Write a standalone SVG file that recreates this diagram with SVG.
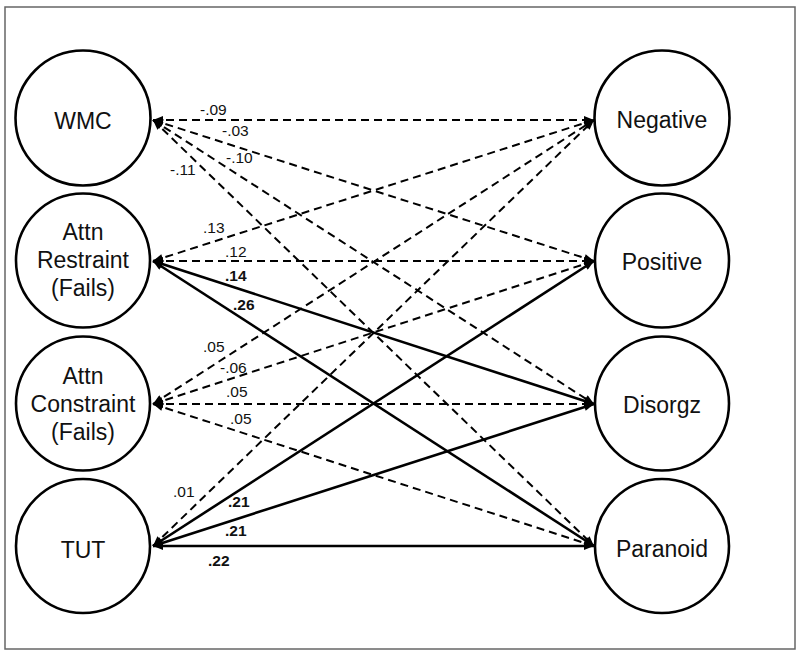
<svg xmlns="http://www.w3.org/2000/svg" width="800" height="660" viewBox="0 0 800 660">
<style>
.node{fill:#fff;stroke:#000;stroke-width:2.6}
.nl{font-family:"Liberation Sans",Arial,sans-serif;font-size:23px;fill:#111;text-anchor:middle}
.e{stroke:#000;fill:none;marker-start:url(#ah);marker-end:url(#ah)}
.d{stroke-width:2;stroke-dasharray:8 5}
.s{stroke-width:2.6}
.el{font-family:"Liberation Sans",Arial,sans-serif;font-size:15.5px;fill:#111}
.b{font-weight:bold}
</style>
<defs>
<marker id="ah" viewBox="0 0 10 8" refX="10" refY="4" markerWidth="11" markerHeight="8" markerUnits="userSpaceOnUse" orient="auto-start-reverse">
<path d="M0,0 L10,4 L0,8 z" fill="#000"/>
</marker>
</defs>
<rect x="5" y="7" width="790" height="642" fill="#fff" stroke="#666" stroke-width="1.5"/>
<g id="connectors">
<line class="e d" x1="153" y1="120" x2="594" y2="120"/>
<line class="e d" x1="153" y1="120" x2="594" y2="261"/>
<line class="e d" x1="153" y1="120" x2="594" y2="404"/>
<line class="e d" x1="153" y1="120" x2="594" y2="546"/>
<line class="e d" x1="153" y1="261" x2="594" y2="120"/>
<line class="e d" x1="153" y1="261" x2="594" y2="261"/>
<line class="e s" x1="153" y1="261" x2="594" y2="404"/>
<line class="e s" x1="153" y1="261" x2="594" y2="546"/>
<line class="e d" x1="153" y1="404" x2="594" y2="120"/>
<line class="e d" x1="153" y1="404" x2="594" y2="261"/>
<line class="e d" x1="153" y1="404" x2="594" y2="404"/>
<line class="e d" x1="153" y1="404" x2="594" y2="546"/>
<line class="e d" x1="153" y1="546" x2="594" y2="120"/>
<line class="e s" x1="153" y1="546" x2="594" y2="261"/>
<line class="e s" x1="153" y1="546" x2="594" y2="404"/>
<line class="e s" x1="153" y1="546" x2="594" y2="546"/>
<text class="el" x="200" y="115">-.09</text>
<text class="el" x="222" y="136">-.03</text>
<text class="el" x="226" y="163">-.10</text>
<text class="el" x="170" y="175">-.11</text>
<text class="el" x="203" y="233">.13</text>
<text class="el" x="225" y="257">.12</text>
<text class="el b" x="225" y="281">.14</text>
<text class="el b" x="233" y="310">.26</text>
<text class="el" x="203" y="352">.05</text>
<text class="el" x="220" y="373">-.06</text>
<text class="el" x="226" y="397">.05</text>
<text class="el" x="230" y="424">.05</text>
<text class="el" x="173" y="497">.01</text>
<text class="el b" x="228" y="507">.21</text>
<text class="el b" x="225" y="536">.21</text>
<text class="el b" x="208" y="566">.22</text>
</g>
<g id="wmc"><circle class="node" cx="83" cy="118" r="67.5"/><text class="nl" x="83" y="129">WMC</text></g>
<g id="restraint"><circle class="node" cx="83" cy="260.5" r="67"/><text class="nl" x="83" y="240">Attn</text><text class="nl" x="83" y="268">Restraint</text><text class="nl" x="83" y="296">(Fails)</text></g>
<g id="constraint"><circle class="node" cx="83" cy="403.5" r="67"/><text class="nl" x="83" y="384">Attn</text><text class="nl" x="83" y="412">Constraint</text><text class="nl" x="83" y="440">(Fails)</text></g>
<g id="tut"><circle class="node" cx="83" cy="546" r="67"/><text class="nl" x="83" y="558">TUT</text></g>
<g id="negative"><circle class="node" cx="662" cy="118" r="67.5"/><text class="nl" x="662" y="128">Negative</text></g>
<g id="positive"><circle class="node" cx="662" cy="260.5" r="67"/><text class="nl" x="662" y="270">Positive</text></g>
<g id="disorgz"><circle class="node" cx="662" cy="403.5" r="67"/><text class="nl" x="662" y="413">Disorgz</text></g>
<g id="paranoid"><circle class="node" cx="662" cy="546" r="67"/><text class="nl" x="662" y="557">Paranoid</text></g>
</svg>
